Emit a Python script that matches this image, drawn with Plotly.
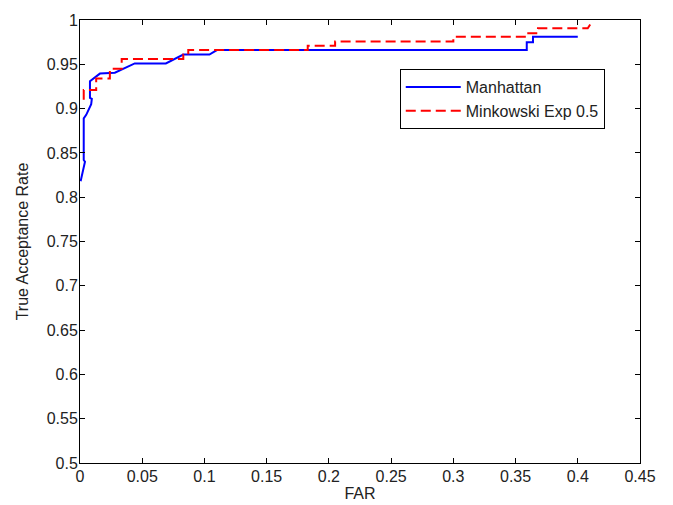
import plotly.graph_objects as go

# Manhattan ROC curve
manhattan_far = [0.0005, 0.004, 0.003, 0.003, 0.005, 0.009, 0.0095, 0.008, 0.008, 0.016, 0.028,
                 0.044, 0.069, 0.083, 0.104, 0.110, 0.359, 0.359, 0.364, 0.364, 0.400]
manhattan_tar = [0.818, 0.840, 0.842, 0.889, 0.893, 0.905, 0.911, 0.912, 0.931, 0.9395, 0.9405,
                 0.951, 0.951, 0.961, 0.961, 0.966, 0.966, 0.975, 0.975, 0.981, 0.981]

# Minkowski exp 0.5 ROC curve
minkowski_far = [0.003, 0.003, 0.013, 0.013, 0.024, 0.024, 0.0335, 0.0335, 0.083, 0.083, 0.087,
                 0.087, 0.183, 0.183, 0.205, 0.205, 0.300, 0.300, 0.359, 0.359, 0.368, 0.368,
                 0.408, 0.410]
minkowski_tar = [0.910, 0.921, 0.921, 0.934, 0.934, 0.945, 0.945, 0.956, 0.956, 0.961, 0.961,
                 0.966, 0.966, 0.971, 0.971, 0.9756, 0.9756, 0.981, 0.981, 0.985, 0.985, 0.9906,
                 0.9906, 0.995]

x_ticks = [0, 0.05, 0.1, 0.15, 0.2, 0.25, 0.3, 0.35, 0.4, 0.45]
x_tick_labels = ["0", "0.05", "0.1", "0.15", "0.2", "0.25", "0.3", "0.35", "0.4", "0.45"]
y_ticks = [0.5, 0.55, 0.6, 0.65, 0.7, 0.75, 0.8, 0.85, 0.9, 0.95, 1.0]
y_tick_labels = ["0.5", "0.55", "0.6", "0.65", "0.7", "0.75", "0.8", "0.85", "0.9", "0.95", "1"]

fig = go.Figure()
fig.add_trace(go.Scatter(x=manhattan_far, y=manhattan_tar, mode="lines", name="Manhattan",
                         line=dict(color="#0000FF", width=2)))
fig.add_trace(go.Scatter(x=minkowski_far, y=minkowski_tar, mode="lines", name="Minkowski Exp 0.5",
                         line=dict(color="#FF0000", width=2, dash="10px,5px")))

font = dict(family="Liberation Sans, Arial, sans-serif", size=16, color="#222222")
axis_common = dict(showgrid=False, zeroline=False, showline=True, linecolor="black", linewidth=1,
                   mirror="ticks", ticks="inside", ticklen=5, tickcolor="black", tickfont=font,
                   automargin=False)

fig.update_layout(
    width=673, height=505,
    margin=dict(l=72, r=41, t=12, b=50),
    paper_bgcolor="white", plot_bgcolor="white",
    font=font,
    xaxis=dict(range=[0, 0.45], tickvals=x_ticks, ticktext=x_tick_labels, ticklabelstandoff=-1,
               title=dict(text="FAR", font=font, standoff=0), **axis_common),
    yaxis=dict(range=[0.5, 1.0], tickvals=y_ticks, ticktext=y_tick_labels, ticklabelstandoff=-2,
               title=dict(text="True Acceptance Rate", font=font, standoff=14), **axis_common),
    legend=dict(x=0.571, y=0.889, xanchor="left", yanchor="top", bgcolor="white",
                bordercolor="black", borderwidth=1, font=font,
                itemwidth=55),
    showlegend=True,
)

fig.write_html("out.html")
